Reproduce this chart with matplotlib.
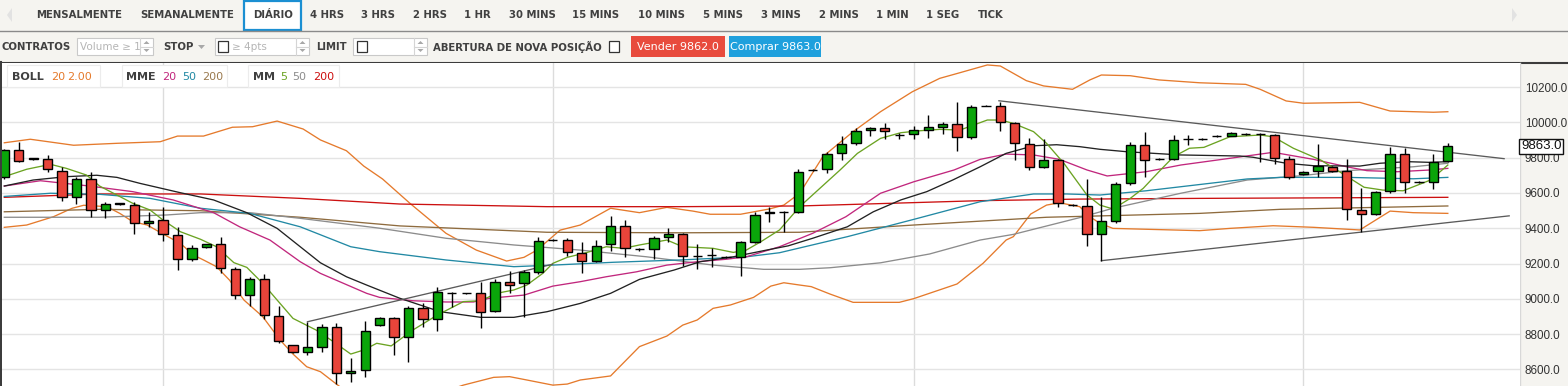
import matplotlib.pyplot as plt
from matplotlib.patches import Rectangle, Polygon
import matplotlib.transforms as mtransforms

W, H = 1568, 386

# ---- daily candles (index 0..100) ----
opens = [9690, 9843, 9795, 9792, 9722, 9575, 9680, 9503, 9540, 9530,
         9430, 9446, 9360, 9224, 9292, 9309, 9167, 9020, 9110, 8901,
         8736, 8697, 8729, 8838, 8578, 8597, 8850, 8889, 8782, 8946,
         8884, 9035, 9033, 9034, 8933, 9093, 9088, 9153, 9333, 9331,
         9258, 9212, 9309, 9411, 9282, 9280, 9348, 9365, 9242, 9248,
         9236, 9235, 9320, 9488, 9490, 9490, 9727, 9734, 9824, 9881,
         9955, 9966, 9928, 9932, 9958, 9975, 9989, 9915, 10093, 10094,
         9994, 9875, 9748, 9786, 9532, 9526, 9367, 9442, 9654, 9870,
         9793, 9794, 9905, 9905, 9924, 9922, 9936, 9935, 9928, 9790,
         9705, 9724, 9745, 9724, 9501, 9479, 9611, 9819, 9664, 9660,
         9782]
highs = [9850, 9890, 9800, 9815, 9745, 9692, 9717, 9550, 9545, 9550,
         9493, 9518, 9408, 9305, 9310, 9348, 9178, 9125, 9140, 8961,
         8740, 8870, 8857, 8861, 8663, 8874, 8895, 8898, 8959, 8974,
         9068, 9040, 9035, 9093, 9114, 9157, 9163, 9348, 9337, 9343,
         9320, 9333, 9468, 9446, 9290, 9356, 9400, 9374, 9308, 9286,
         9240, 9327, 9490, 9518, 9495, 9734, 9735, 9832, 9922, 9966,
         9973, 9994, 9941, 9979, 10041, 10003, 10113, 10098, 10100, 10117,
         10003, 9909, 9905, 9790, 9535, 9677, 9575, 9663, 9890, 9947,
         9795, 9928, 9926, 9910, 9928, 9945, 9940, 9938, 9935, 9809,
         9724, 9877, 9750, 9790, 9626, 9610, 9862, 9856, 9670, 9819,
         9884]
lows = [9680, 9777, 9788, 9717, 9556, 9537, 9465, 9456, 9533, 9369,
        9406, 9327, 9163, 9216, 9288, 9144, 9001, 8961, 8887, 8748,
        8695, 8682, 8700, 8520, 8530, 8559, 8845, 8682, 8644, 8842,
        8817, 8955, 9030, 8836, 8927, 9031, 8895, 9140, 9330, 9242,
        9148, 9208, 9271, 9238, 9270, 9224, 9323, 9187, 9167, 9182,
        9232, 9129, 9314, 9437, 9381, 9486, 9722, 9711, 9788, 9870,
        9922, 9904, 9904, 9907, 9913, 9932, 9839, 9907, 10090, 9952,
        9786, 9730, 9741, 9522, 9525, 9299, 9216, 9428, 9645, 9688,
        9788, 9786, 9871, 9898, 9918, 9920, 9930, 9777, 9764, 9677,
        9700, 9688, 9720, 9446, 9377, 9475, 9601, 9601, 9655, 9620,
        9777]
closes = [9843, 9783, 9793, 9734, 9575, 9680, 9503, 9535, 9538, 9428,
          9441, 9365, 9224, 9286, 9309, 9173, 9020, 9112, 8906, 8759,
          8699, 8725, 8838, 8578, 8591, 8817, 8889, 8782, 8946, 8884,
          9037, 9033, 9035, 8927, 9093, 9080, 9150, 9326, 9335, 9263,
          9212, 9301, 9411, 9286, 9280, 9343, 9365, 9240, 9240, 9246,
          9238, 9320, 9473, 9490, 9492, 9717, 9729, 9819, 9875, 9949,
          9966, 9949, 9926, 9955, 9972, 9989, 9915, 10088, 10095, 10000,
          9881, 9748, 9786, 9544, 9530, 9367, 9439, 9649, 9870, 9786,
          9791, 9900, 9907, 9903, 9922, 9938, 9934, 9933, 9796, 9690,
          9717, 9752, 9726, 9507, 9479, 9603, 9819, 9660, 9662, 9777,
          9863]
last_price = 9863.0
bid, ask = 9862.0, 9863.0
month_starts = [11, 38, 63, 90]
price_ticks = [8600, 8800, 9000, 9200, 9400, 9600, 9800, 10000, 10200]

# ---- indicators, read at the vertices seen on the chart (x = candle index) ----
boll_up_i = [0, 1.8, 4.8, 7.8, 10.8, 12, 13.8, 15.8, 17.2, 18.9, 20.7, 21.9, 23.7, 24.9,
             26.2, 28.1, 30.6, 32.7, 34.8, 36, 36.9, 38.5, 39.9, 42, 44, 45.9, 47.7, 48.9,
             51, 53, 54, 55.1, 56.7, 58.8, 60.7, 62.9, 64.8, 66.2, 68.1, 69, 70.8, 72, 74,
             75.2, 76, 78, 80, 82.8, 86, 87, 88.8, 90, 93.9, 96, 99, 100]
boll_up_p = [9884, 9904, 9870, 9881, 9890, 9922, 9922, 9972, 9975, 10007, 9962, 9900, 9839,
             9752, 9679, 9541, 9371, 9276, 9214, 9235, 9276, 9389, 9418, 9513, 9488, 9518,
             9497, 9479, 9479, 9509, 9531, 9598, 9805, 9947, 10060, 10173, 10249, 10281,
             10325, 10319, 10236, 10206, 10187, 10240, 10268, 10264, 10240, 10224, 10215,
             10187, 10121, 10108, 10113, 10064, 10057, 10060]
boll_lo_i = [0, 1.55, 3.4, 4.7, 5.5, 7.1, 8.0, 8.9, 9.9, 11.0, 12.2, 13.1, 13.8, 14.7, 15.6,
             16.6, 17.9, 19.1, 20.0, 20.95, 21.9, 22.8, 24.0, 26.0, 28.5, 31.8, 33.9, 35.0,
             36.2, 38.0, 39.0, 39.9, 42.0, 44.0, 45.9, 47.0, 48.0, 49.1, 50.3, 51.9, 53.1,
             54.0, 55.1, 55.9, 57.2, 58.8, 62.0, 63.0, 66.0, 67.8, 69.4, 69.9, 71.1, 72.2,
             73.1, 74.5, 75.2, 75.9, 76.8, 79.1, 82.8, 84.9, 87.9, 90.7, 93.9, 96.0, 97.6, 100]
boll_lo_p = [9405, 9418, 9465, 9513, 9530, 9522, 9484, 9437, 9418, 9367, 9314, 9248, 9220,
             9182, 9106, 8993, 8899, 8767, 8687, 8615, 8587, 8530, 8455, 8400, 8420, 8511,
             8555, 8559, 8540, 8511, 8517, 8540, 8563, 8729, 8789, 8851, 8880, 8946, 8965,
             9008, 9072, 9091, 9078, 9069, 9027, 8980, 8980, 9001, 9084, 9201, 9333, 9352,
             9480, 9531, 9544, 9522, 9465, 9428, 9399, 9394, 9386, 9399, 9414, 9405, 9390,
             9497, 9488, 9484]
boll_mid_i = [0, 2.0, 4.3, 6.4, 7.8, 9.4, 12.2, 14.5, 16.8, 18.9, 20.5, 21.9, 23.7, 25.1,
              27.4, 30.2, 33.0, 35.3, 37.6, 39.9, 42.0, 44.0, 46.4, 48.2, 50.5, 52.8, 54.3,
              56.0, 58.4, 60.2, 62.1, 63.9, 65.7, 67.6, 69.4, 71.3, 72.9, 74.5, 75.9, 77.8,
              81.5, 85.6, 86.5, 88.8, 90.7, 93.9, 95.3, 97.2, 98.8, 100]
boll_mid_p = [9639, 9673, 9692, 9700, 9688, 9654, 9601, 9560, 9488, 9399, 9295, 9204, 9125,
              9078, 9003, 8927, 8895, 8895, 8927, 8974, 9031, 9110, 9163, 9210, 9238, 9276,
              9300, 9343, 9408, 9493, 9560, 9607, 9673, 9748, 9824, 9867, 9873, 9862, 9847,
              9833, 9815, 9809, 9802, 9768, 9754, 9752, 9768, 9777, 9773, 9777]
mme20_i = [0, 2.5, 5.9, 8.9, 11.7, 14.5, 16.3, 18.4, 20.5, 21.9, 25.1, 26.0, 28.3, 30.6,
           32.5, 33.6, 36.0, 38.0, 39.9, 41.7, 43.8, 45.9, 48.0, 50.0, 51.4, 53.7, 56.0,
           58.3, 60.7, 63.0, 65.8, 67.6, 69.4, 71.3, 73.1, 75.0, 76.4, 79.1, 81.5, 84.9,
           87.9, 90.7, 93.0, 94.4, 96.5, 98.8, 100]
mme20_p = [9639, 9669, 9639, 9607, 9560, 9488, 9408, 9333, 9210, 9144, 9031, 9008, 8989,
           8982, 8982, 9003, 9021, 9072, 9097, 9125, 9153, 9191, 9210, 9224, 9238, 9295,
           9371, 9465, 9598, 9663, 9730, 9790, 9820, 9815, 9790, 9730, 9696, 9720, 9758,
           9796, 9830, 9790, 9748, 9726, 9720, 9730, 9739]
mme50_i = [0, 3.2, 6.6, 10.1, 13.6, 17.0, 20.5, 24.0, 26.0, 30.6, 35.3, 38.0, 42.2, 46.8,
           51.4, 53.7, 58.4, 63.0, 67.6, 71.3, 73.6, 75.9, 79.1, 81.5, 86.1, 88.4, 93.0,
           97.6, 100]
mme50_p = [9580, 9598, 9592, 9569, 9513, 9484, 9408, 9295, 9267, 9220, 9182, 9191, 9207,
           9220, 9238, 9261, 9352, 9450, 9550, 9594, 9594, 9588, 9612, 9635, 9679, 9688,
           9688, 9680, 9688]
mme200_i = [0, 6.6, 13.6, 20.5, 27.4, 37.6, 46.8, 55.1, 63.0, 72.2, 82.8, 88.4, 100]
mme200_p = [9493, 9507, 9499, 9462, 9413, 9377, 9374, 9377, 9418, 9462, 9484, 9507, 9526]
mm5_i = [0, 1.55, 3.2, 4.3, 5.7, 6.6, 7.8, 8.9, 10.1, 11.0, 12.2, 13.6, 14.7, 15.9, 16.8,
         17.9, 18.9, 20.0, 21.6, 22.8, 24.0, 24.9, 25.8, 26.8, 28.3, 30.0, 31.8, 33.0, 34.1,
         35.3, 36.2, 37.3, 38.0, 39.0, 40.3, 41.7, 42.9, 44.0, 45.9, 47.0, 49.1, 50.5, 51.4,
         52.4, 53.7, 55.1, 56.5, 57.9, 59.1, 60.7, 62.1, 63.4, 64.8, 66.2, 68.1, 69.0, 69.9,
         71.3, 72.2, 73.4, 75.0, 75.9, 76.8, 78.0, 78.9, 80.1, 81.0, 82.1, 83.1, 84.9, 87.0,
         87.9, 89.3, 91.2, 92.5, 94.2, 95.5, 96.9, 98.8, 100]
mm5_p = [9692, 9734, 9762, 9739, 9701, 9639, 9588, 9541, 9503, 9446, 9380, 9337, 9295, 9205,
         9178, 9088, 8993, 8889, 8823, 8757, 8687, 8710, 8748, 8733, 8823, 8908, 8984, 8989,
         9031, 9050, 9078, 9144, 9201, 9235, 9261, 9295, 9286, 9305, 9333, 9295, 9286, 9263,
         9276, 9323, 9390, 9522, 9626, 9730, 9824, 9909, 9941, 9952, 9960, 9956, 10013,
         10013, 9994, 9947, 9881, 9768, 9588, 9531, 9509, 9569, 9626, 9730, 9805, 9853, 9858,
         9918, 9928, 9918, 9853, 9786, 9720, 9632, 9616, 9612, 9673, 9758]
mm50_i = [0, 6.6, 11.25, 13.6, 17.0, 20.5, 26.0, 30.6, 35.3, 39.9, 44.5, 49.1, 52.6, 55.1,
          57.2, 60.7, 64.1, 67.6, 69.9, 74.5, 76.8, 81.5, 86.1, 89.8, 93.0, 97.6, 100]
mm50_p = [9462, 9462, 9475, 9488, 9488, 9456, 9400, 9343, 9305, 9276, 9238, 9191, 9167, 9167,
          9176, 9204, 9254, 9333, 9365, 9460, 9513, 9598, 9673, 9697, 9726, 9748, 9768]
mm200_i = [0, 6.6, 13.6, 20.5, 27.4, 37.6, 46.8, 55.1, 67.6, 74.5, 82.8, 100]
mm200_p = [9575, 9594, 9594, 9569, 9537, 9522, 9522, 9526, 9556, 9565, 9569, 9575]

# hand drawn trend lines (candle index, price)
trend_lines = [([21, 38], [8870, 9196]),
               ([68.9, 103.9], [10122, 9794]),
               ([76, 104.25], [9216, 9470])]

ORANGE = '#e57a2c'
C_RED, C_GREEN = '#e8443a', '#0aa50a'
TXT = '#404040'
UI = 'DejaVu Sans'

fig = plt.figure(figsize=(W / 100, H / 100), dpi=100)
fig.patch.set_facecolor('#f5f4f0')

# background / toolbar in pixel coordinates
bg = fig.add_axes([0, 0, 1, 1], zorder=0)
bg.set_xlim(0, W)
bg.set_ylim(H, 0)
bg.axis('off')

tabs = [('MENSALMENTE', 79), ('SEMANALMENTE', 187.5), ('DIÁRIO', 273), ('4 HRS', 327),
        ('3 HRS', 378.5), ('2 HRS', 430), ('1 HR', 477.5), ('30 MINS', 532),
        ('15 MINS', 595.5), ('10 MINS', 661.5), ('5 MINS', 723), ('3 MINS', 781),
        ('2 MINS', 838.5), ('1 MIN', 892.5), ('1 SEG', 943), ('TICK', 990.5)]
bg.add_patch(Rectangle((244, 0.5), 57, 29, fc='white', ec='#1b8fd2', lw=1.6))
for lab, xc in tabs:
    bg.text(xc, 15, lab, ha='center', va='center', fontsize=7.3, fontweight='bold',
            color=TXT, family=UI)
bg.add_patch(Polygon([[12, 8], [12, 22], [7, 15]], closed=True, fc='#e2e2e2', ec='none'))
bg.add_patch(Polygon([[1512, 8], [1512, 22], [1517, 15]], closed=True, fc='#e2e2e2', ec='none'))
bg.plot([0, W], [30.5, 30.5], color='#8a8a8a', lw=1)

# second row: order controls
bg.text(2, 46.5, 'CONTRATOS', ha='left', va='center', fontsize=7.3, fontweight='bold',
        color=TXT, family=UI)
def spin_box(x0, x1):
    bg.add_patch(Rectangle((x0, 38), x1 - x0, 17, fc='white', ec='#c9c9c9', lw=0.8))
    bg.plot([x1 - 13, x1 - 13], [38, 55], color='#d5d5d5', lw=0.8)
    bg.plot([x1 - 13, x1], [46.5, 46.5], color='#d5d5d5', lw=0.8)
    xm = x1 - 6.5
    bg.add_patch(Polygon([[xm - 3, 44], [xm + 3, 44], [xm, 41]], fc='#a8a8a8', ec='none'))
    bg.add_patch(Polygon([[xm - 3, 49], [xm + 3, 49], [xm, 52]], fc='#a8a8a8', ec='none'))
def check(x, y):
    bg.add_patch(Rectangle((x, y), 10, 11, fc='white', ec='#333333', lw=0.9))
spin_box(77, 153)
bg.text(80, 46.5, 'Volume ≥ 1', ha='left', va='center', fontsize=7.5, color='#b5b5b5',
        family='Liberation Sans Narrow')
bg.text(163, 46.5, 'STOP', ha='left', va='center', fontsize=7.3, fontweight='bold',
        color=TXT, family=UI)
bg.add_patch(Polygon([[198, 45], [205, 45], [201.5, 49]], fc='#a8a8a8', ec='none'))
spin_box(215, 309)
check(218, 41)
bg.text(232, 46.5, '≥ 4pts', ha='left', va='center', fontsize=7.5, color='#b5b5b5',
        family='Liberation Sans Narrow')
bg.text(316, 46.5, 'LIMIT', ha='left', va='center', fontsize=7.3, fontweight='bold',
        color=TXT, family=UI)
spin_box(353, 427)
check(357, 41)
bg.text(433, 46.5, 'ABERTURA DE NOVA POSIÇÃO', ha='left', va='center', fontsize=7.3,
        fontweight='bold', color=TXT, family=UI)
check(609, 41)
bg.add_patch(Rectangle((631, 36), 94, 21, fc='#e84b3d', ec='none'))
bg.text(678, 46.5, 'Vender %.1f' % bid, ha='center', va='center', fontsize=8,
        color='white', family='Liberation Sans Narrow')
bg.add_patch(Rectangle((729, 36), 92, 21, fc='#1fa0dd', ec='none'))
bg.text(775, 46.5, 'Comprar %.1f' % ask, ha='center', va='center', fontsize=8,
        color='white', family='Liberation Sans Narrow')
bg.plot([0, W], [62.5, 62.5], color='#3c3c3c', lw=1.5)
bg.plot([1, 1], [62, H], color='#3c3c3c', lw=1.5)
bg.plot([1520.5, 1520.5], [63, H], color='#d8d8d8', lw=1)

# ---- price chart ----
ax = fig.add_axes([2 / W, 0, 1518 / W, 323 / H], zorder=1)
ax.set_facecolor('white')
ax.set_xlim(-0.16, 105.0)
ax.set_ylim(8506, 10336)
for s in ax.spines.values():
    s.set_visible(False)
ax.set_xticks([])
ax.yaxis.tick_right()
ax.set_yticks(price_ticks)
ax.set_yticklabels(['%.1f' % v for v in price_ticks], family='Liberation Sans')
ax.tick_params(axis='y', length=0, pad=3.5, labelsize=8.4, labelcolor='#333333')
ax.grid(axis='y', color='#e4e4e4', lw=1)
for m in month_starts:
    ax.axvline(m, color='#dcdcdc', lw=1, zorder=0.5)

lines = [(boll_up_i, boll_up_p, ORANGE), (boll_lo_i, boll_lo_p, ORANGE),
         (mme200_i, mme200_p, '#8e6b3e'), (mm200_i, mm200_p, '#cc1010'),
         (mm50_i, mm50_p, '#8c8c8c'), (mme50_i, mme50_p, '#2289a4'),
         (mme20_i, mme20_p, '#c1277d'), (boll_mid_i, boll_mid_p, '#222222'),
         (mm5_i, mm5_p, '#6ba322')]
for xs, ys, c in lines:
    ax.plot(xs, ys, color=c, lw=0.95, zorder=2, solid_joinstyle='round')
for xs, ys in trend_lines:
    ax.plot(xs, ys, color='#5a5a5a', lw=0.95, zorder=2, clip_on=False)

idx = list(range(len(opens)))
ax.vlines(idx, lows, highs, color='black', lw=1.0, zorder=3)
cols = [C_GREEN if c >= o else C_RED for o, c in zip(opens, closes)]
bottoms = [min(o, c) for o, c in zip(opens, closes)]
heights = [max(abs(c - o), 2) for o, c in zip(opens, closes)]
ax.bar(idx, heights, bottom=bottoms, width=0.64, color=cols, edgecolor='black',
       lw=1.0, zorder=4)

tr = mtransforms.blended_transform_factory(ax.transAxes, ax.transData)
ax.text(1.0 + 1 / 1518, last_price, '%.1f' % last_price, transform=tr, ha='left',
        va='center', fontsize=9.5, family='Liberation Sans', color='#111111', zorder=10,
        clip_on=False,
        bbox=dict(boxstyle='square,pad=0.15', fc='white', ec='#111111', lw=1))

# ---- indicator legend boxes ----
ov = fig.add_axes([0, 0, 1, 1], zorder=5)
ov.set_xlim(0, W)
ov.set_ylim(H, 0)
ov.axis('off')
for x0, x1 in [(7, 100), (122, 227), (248, 339)]:
    ov.add_patch(Rectangle((x0, 65), x1 - x0, 22, fc='white', ec='#ececec', lw=0.8))
legend_parts = [('BOLL', 12, TXT, 'bold'), ('20', 51, ORANGE, 'normal'),
                ('2.00', 67, ORANGE, 'normal'), ('MME', 126, TXT, 'bold'),
                ('20', 162, '#c1277d', 'normal'), ('50', 182, '#2289a4', 'normal'),
                ('200', 202, '#9a7a4e', 'normal'), ('MM', 253, TXT, 'bold'),
                ('5', 280, '#6ba322', 'normal'), ('50', 292, '#8c8c8c', 'normal'),
                ('200', 313, '#cc1010', 'normal')]
for t, x, c, w in legend_parts:
    ov.text(x, 76.5, t, ha='left', va='center', fontsize=8, color=c, fontweight=w,
            family=UI)

fig.savefig('out.png', dpi=100, facecolor=fig.get_facecolor())
